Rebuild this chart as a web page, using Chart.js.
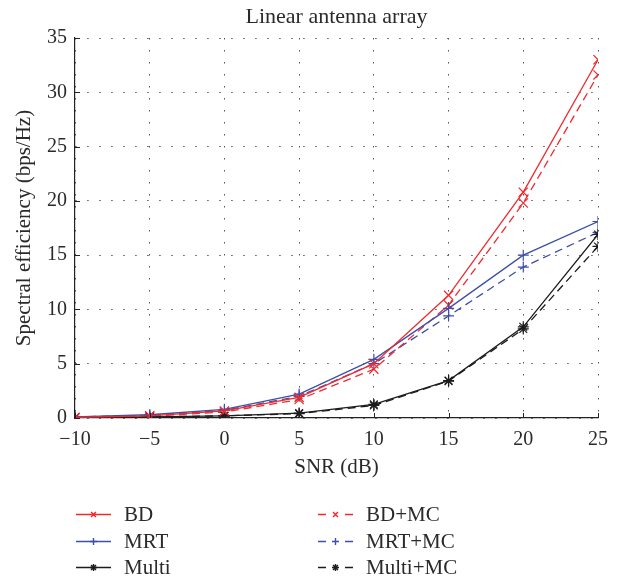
<!DOCTYPE html>
<html>
<head>
<meta charset="utf-8">
<script src="https://cdn.jsdelivr.net/npm/chart.js@4"></script>
<style>
  html, body { margin: 0; padding: 0; background: #fff; }
  #wrap { width: 618px; height: 579px; }
</style>
</head>
<body>
<div id="wrap"><canvas id="chart" width="618" height="579"></canvas></div>
<script>
// --- Data ---
const snr = [-10, -5, 0, 5, 10, 15, 20, 25];
const bd = [0.05, 0.2, 0.65, 1.9, 5.0, 11.3, 20.8, 33.0];
const bdMc = [0.05, 0.15, 0.55, 1.7, 4.5, 10.4, 19.8, 31.6];
const mrt = [0.1, 0.3, 0.8, 2.2, 5.4, 10.1, 15.0, 18.1];
const mrtMc = [0.1, 0.25, 0.7, 2.0, 5.0, 9.4, 13.9, 17.1];
const multi = [0.02, 0.1, 0.2, 0.45, 1.25, 3.45, 8.4, 16.9];
const multiMc = [0.02, 0.1, 0.2, 0.4, 1.15, 3.4, 8.2, 15.8];
const xTicks = [-10, -5, 0, 5, 10, 15, 20, 25];
const yTicks = [0, 5, 10, 15, 20, 25, 30, 35];

const RED = '#ee2a2e';
const BLUE = '#3d4fa6';
const BLACK = '#1c1c1c';
const TEXT = '#2a2a2a';
const FONT = '"Liberation Serif", "DejaVu Serif", serif';

const toPts = arr => arr.map((v, i) => ({ x: snr[i], y: v }));

function series(label, values, color, style, dashed, radius) {
    return {
        label,
        data: toPts(values),
        borderColor: color,
        backgroundColor: color,
        borderWidth: 1.3,
        borderDash: dashed ? [8, 5] : [],
        pointStyle: style,
        pointRadius: radius,
        pointBorderWidth: 1.2,
        pointBorderColor: color,
        tension: 0,
        fill: false
    };
}

const datasets = [
    series('BD', bd, RED, 'crossRot', false, 6.5),
    series('MRT', mrt, BLUE, 'cross', false, 5.5),
    series('Multi', multi, BLACK, 'star', false, 5.5),
    series('BD+MC', bdMc, RED, 'crossRot', true, 6.5),
    series('MRT+MC', mrtMc, BLUE, 'cross', true, 5.5),
    series('Multi+MC', multiMc, BLACK, 'star', true, 5.5)
];

const minus = v => String(v).replace('-', '\u2212');

// --- Extra drawing: title, axis titles, inward ticks, legend ---
const decorations = {
    id: 'decorations',
    afterDraw(chart) {
        const { ctx, chartArea: a, scales } = chart;
        ctx.save();
        ctx.fillStyle = TEXT;
        ctx.textAlign = 'center';
        ctx.textBaseline = 'middle';
        ctx.font = `22px ${FONT}`;
        ctx.fillText('Linear antenna array', (a.left + a.right) / 2, 17);
        ctx.font = `21px ${FONT}`;
        ctx.fillText('SNR (dB)', (a.left + a.right) / 2, 467);
        ctx.save();
        ctx.translate(24, (a.top + a.bottom) / 2);
        ctx.rotate(-Math.PI / 2);
        ctx.fillText('Spectral efficiency (bps/Hz)', 0, 0);
        ctx.restore();

        // inward tick marks
        ctx.strokeStyle = '#222';
        ctx.lineWidth = 1;
        ctx.beginPath();
        xTicks.forEach(t => {
            const x = Math.round(scales.x.getPixelForValue(t)) + 0.5;
            ctx.moveTo(x, a.bottom);
            ctx.lineTo(x, a.bottom - 5);
        });
        yTicks.forEach(t => {
            const y = Math.round(scales.y.getPixelForValue(t)) + 0.5;
            ctx.moveTo(a.left, y);
            ctx.lineTo(a.left + 5, y);
        });
        ctx.stroke();

        // legend, two columns of three
        const cols = [76, 318];
        const rows = [514, 541, 567];
        chart.data.datasets.forEach((ds, i) => {
            const x0 = cols[Math.floor(i / 3)];
            const y = rows[i % 3];
            ctx.save();
            ctx.strokeStyle = ds.borderColor;
            ctx.fillStyle = ds.borderColor;
            ctx.lineWidth = 1.4;
            ctx.setLineDash(ds.borderDash.length ? [8, 19] : []);
            ctx.beginPath();
            ctx.moveTo(x0, y + 0.5);
            ctx.lineTo(x0 + 35, y + 0.5);
            ctx.stroke();
            ctx.setLineDash([]);
            Chart.helpers.drawPoint(ctx, {
                pointStyle: ds.pointStyle,
                radius: 3.5,
                borderWidth: 1.4
            }, x0 + 17.5, y + 0.5);
            ctx.restore();
            ctx.fillStyle = TEXT;
            ctx.font = `21px ${FONT}`;
            ctx.textAlign = 'left';
            ctx.fillText(ds.label, x0 + 48, y + 1);
        });
        ctx.restore();
    }
};

const gridOpts = {
    color: '#555',
    lineWidth: 1,
    drawTicks: false
};

new Chart(document.getElementById('chart'), {
    type: 'line',
    data: { datasets },
    options: {
        responsive: false,
        animation: false,
        layout: { padding: { top: 38, right: 19, bottom: 0, left: 0 } },
        plugins: {
            legend: { display: false },
            title: { display: false },
            tooltip: { enabled: false }
        },
        scales: {
            x: {
                type: 'linear',
                min: -10,
                max: 25,
                afterFit: s => { s.height = 161; },
                afterBuildTicks: s => { s.ticks = xTicks.map(v => ({ value: v })); },
                border: { display: true, color: '#222', width: 1.2, dash: [1.5, 10.5] },
                grid: gridOpts,
                ticks: {
                    color: TEXT,
                    padding: 10,
                    font: { family: FONT, size: 20 },
                    callback: v => minus(v)
                }
            },
            y: {
                min: 0,
                max: 35,
                afterFit: s => { s.width = 75; },
                afterBuildTicks: s => { s.ticks = yTicks.map(v => ({ value: v })); },
                border: { display: true, color: '#222', width: 1.2, dash: [1.5, 10.5] },
                grid: gridOpts,
                ticks: {
                    color: TEXT,
                    padding: 8,
                    font: { family: FONT, size: 20 },
                    callback: v => minus(v)
                }
            }
        }
    },
    plugins: [decorations]
});
</script>
</body>
</html>
